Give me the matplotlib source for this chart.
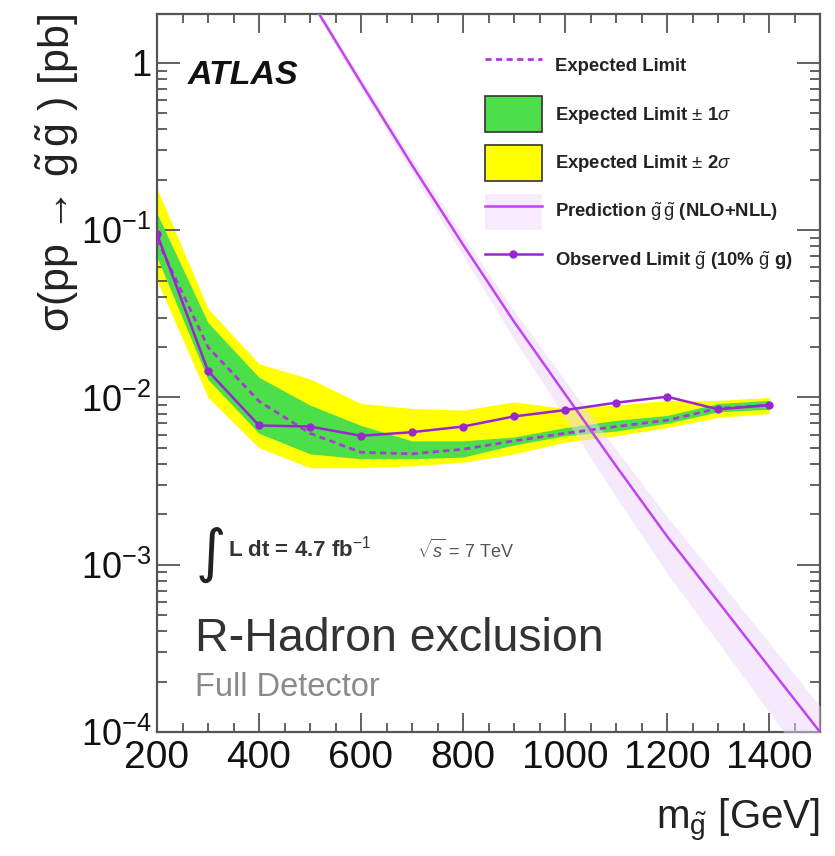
import matplotlib
matplotlib.use("Agg")
import matplotlib.pyplot as plt
import numpy as np
from matplotlib.patches import Patch
from matplotlib.lines import Line2D
from matplotlib.ticker import FixedLocator, FixedFormatter, MultipleLocator

plt.rcParams['font.family'] = ['Liberation Sans', 'DejaVu Sans']
plt.rcParams['mathtext.fontset'] = 'custom'
plt.rcParams['mathtext.rm'] = 'Liberation Sans'
plt.rcParams['mathtext.it'] = 'Liberation Sans:italic'
plt.rcParams['mathtext.bf'] = 'Liberation Sans:bold'

# ---- data ----
mass = [200, 300, 400, 500, 600, 700, 800, 900, 1000, 1100, 1200, 1300, 1400]
observed = [0.095, 0.0144, 0.0068, 0.0067, 0.0059, 0.0062, 0.0067, 0.0077, 0.0084, 0.0093, 0.0101, 0.0085, 0.0090]
expected = [0.088, 0.020, 0.0095, 0.0061, 0.0047, 0.0046, 0.0049, 0.0055, 0.0061, 0.0067, 0.0073, 0.0086, 0.0090]
one_sig_hi = [0.126, 0.028, 0.0132, 0.0090, 0.0068, 0.0055, 0.0055, 0.0058, 0.0066, 0.0073, 0.0078, 0.0092, 0.0096]
one_sig_lo = [0.069, 0.0128, 0.0061, 0.0046, 0.0043, 0.0043, 0.0044, 0.0052, 0.0059, 0.0063, 0.0070, 0.0082, 0.0085]
two_sig_hi = [0.178, 0.034, 0.0159, 0.0129, 0.0092, 0.0086, 0.0084, 0.0094, 0.0086, 0.0090, 0.0096, 0.0096, 0.0100]
two_sig_lo = [0.050, 0.0100, 0.0050, 0.0038, 0.0038, 0.0039, 0.0041, 0.0046, 0.0054, 0.0059, 0.0066, 0.0076, 0.0080]

pred_mass = [500, 600, 700, 800, 900, 1000, 1100, 1200, 1300, 1400, 1500]
pred = [2.41, 0.76, 0.245, 0.082, 0.0284, 0.0105, 0.0039, 0.00148, 0.000603, 0.000245, 0.0001]
pred_lo = [2.29, 0.707, 0.22, 0.0705, 0.0224, 0.0076, 0.00254, 0.00089, 0.000344, 0.000132, 0.00005]
pred_hi = [2.53, 0.813, 0.27, 0.0927, 0.0332, 0.0126, 0.0049, 0.00194, 0.00082, 0.000343, 0.000142]

ytick_vals = [1e-4, 1e-3, 1e-2, 1e-1, 1]
ytick_labels = [r'$10^{-4}$', r'$10^{-3}$', r'$10^{-2}$', r'$10^{-1}$', '1']
xtick_vals = [200, 400, 600, 800, 1000, 1200, 1400]

# ---- colors ----
c_green = '#4ddf4a'
c_yellow = '#ffff00'
c_pink = '#efd5fb'
c_pred = '#c244ee'
c_obs = '#9a26cf'
c_exp = '#a93ad8'
c_axis = '#555555'

fig = plt.figure(figsize=(8.35, 8.56), dpi=100)
ax = fig.add_axes([157/835, 1-732/856, (820-157)/835, (732-14)/856])

ax.fill_between(mass, two_sig_lo, two_sig_hi, color=c_yellow, lw=0, zorder=1)
ax.fill_between(mass, one_sig_lo, one_sig_hi, color=c_green, lw=0, zorder=2)
ax.fill_between(pred_mass, pred_lo, pred_hi, color=c_pink, lw=0, alpha=0.5, zorder=3)
ax.plot(mass, expected, ls=(0, (2.2, 1.6)), color=c_exp, lw=2.0, zorder=4)
ax.plot(pred_mass, pred, color=c_pred, lw=1.8, zorder=5)
ax.plot(mass, observed, color=c_obs, lw=1.8, marker='o', ms=5, zorder=6)

ax.set_yscale('log')
ax.set_xlim(200, 1500)
ax.set_ylim(1e-4, 1.96)

ax.yaxis.set_major_locator(FixedLocator(ytick_vals))
ax.yaxis.set_major_formatter(FixedFormatter(ytick_labels))
ax.yaxis.set_minor_locator(matplotlib.ticker.LogLocator(base=10, subs=np.arange(2, 10), numticks=20))
ax.yaxis.set_minor_formatter(matplotlib.ticker.NullFormatter())
ax.xaxis.set_major_locator(FixedLocator(xtick_vals))
ax.xaxis.set_minor_locator(MultipleLocator(50))

ax.tick_params(which='both', direction='in', top=True, right=True, colors=c_axis, width=1.3)
ax.tick_params(axis='x', which='major', length=13.5, labelsize=28, pad=6, labelcolor='#111111')
ax.tick_params(axis='x', which='minor', length=6.5)
ax.tick_params(axis='y', which='major', length=16.5, labelsize=26, pad=4, labelcolor='#111111')
ax.tick_params(axis='y', which='minor', length=7.5)
for s in ax.spines.values():
    s.set_color(c_axis)
    s.set_linewidth(1.6)

ax.set_ylabel('\u03c3(pp \u2192 ' + r'$\tilde{\mathrm{g}}\,\tilde{\mathrm{g}}$ ) [pb]',
              fontsize=31, loc='top', color='#222222')
ax.yaxis.set_label_coords(-0.115, 1.0)
ax.set_xlabel(r'm$_{\tilde{\mathrm{g}}}$ [GeV]', fontsize=29, loc='right', color='#222222')
ax.xaxis.set_label_coords(1.0, -0.09)

# annotations
ax.text(0.046, 0.915, 'ATLAS', transform=ax.transAxes, fontsize=24.5, fontweight='bold',
        fontstyle='italic', color='#111111', va='center')
ax.text(0.081, 0.247, '\u222B', transform=ax.transAxes, fontsize=42, family=['DejaVu Sans'],
        color='#222222', va='center', ha='center')
ax.text(0.107, 0.255, r'L dt = 4.7 fb$^{-1}$', transform=ax.transAxes, fontsize=16,
        fontweight='bold', color='#333333', va='center')
ax.text(0.392, 0.253, r'$\sqrt{s}$ = 7 TeV', transform=ax.transAxes, fontsize=13,
        color='#555555', va='center')
ax.text(0.057, 0.1128, 'R-Hadron exclusion', transform=ax.transAxes, fontsize=33.5,
        color='#333333', va='baseline')
ax.text(0.057, 0.050, 'Full Detector', transform=ax.transAxes, fontsize=23.5,
        color='#8a8a8a', va='baseline')

# legend
h_exp = Line2D([], [], ls=(0, (2.2, 1.6)), color=c_exp, lw=2.0)
h_1s = Patch(facecolor=c_green, edgecolor='#333333', lw=1.2)
h_2s = Patch(facecolor=c_yellow, edgecolor='#333333', lw=1.2)
h_pred = (Patch(facecolor='#f8ebfd', edgecolor='none'), Line2D([], [], color=c_pred, lw=1.8))
h_obs = Line2D([], [], color=c_obs, lw=1.8, marker='o', ms=5)
labels = ['Expected Limit',
          r'Expected Limit $\pm$ 1$\sigma$',
          r'Expected Limit $\pm$ 2$\sigma$',
          r'Prediction $\tilde{\mathrm{g}}\,\tilde{\mathrm{g}}$ (NLO+NLL)',
          r'Observed Limit $\tilde{\mathrm{g}}$ (10% $\tilde{\mathrm{g}}$ g)']
leg = ax.legend([h_exp, h_1s, h_2s, h_pred, h_obs], labels,
                loc='upper left', bbox_to_anchor=(0.4947, 0.954), frameon=False,
                borderpad=0, borderaxespad=0, handlelength=3.08, handleheight=2.62,
                handletextpad=0.7, labelspacing=0.70,
                prop={'size': 13.3, 'weight': 'bold'})
for t in leg.get_texts():
    t.set_color('#222222')

fig.savefig('out.png', dpi=100)
